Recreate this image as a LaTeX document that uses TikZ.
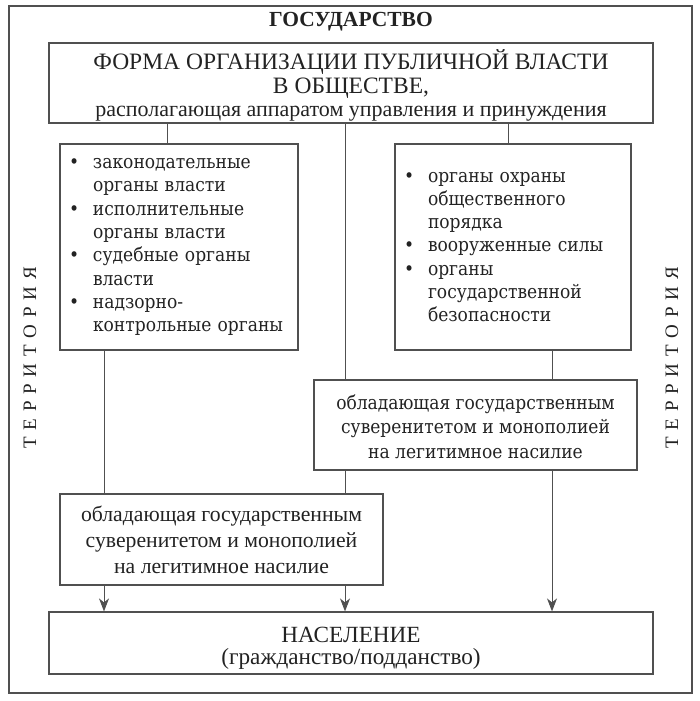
\documentclass[tikz,border=0pt]{standalone}
\usepackage{fontspec}
\setmainfont{Liberation Serif}
\newfontfamily\widefont{DejaVu Serif Condensed}
\newfontfamily\spacedfont[LetterSpace=36]{Liberation Serif}
\usepackage{xcolor}
\usetikzlibrary{arrows.meta,positioning}
\definecolor{framegray}{HTML}{505050}
\definecolor{inkgray}{HTML}{222222}
\newcommand{\bul}{\makebox[24pt][l]{\textbullet}}
\newcommand{\ind}{\hspace*{24pt}}

\begin{document}
\begin{tikzpicture}[x=1pt, y=-1pt, text=inkgray,
    box/.style={rectangle, draw=framegray, line width=1.2pt, inner sep=0pt, align=center},
    listbox/.style={box, text width=220pt, inner xsep=9pt, minimum height=206pt, align=left,
        font=\widefont\fontsize{19}{23.3}\selectfont},
    link/.style={draw=framegray, line width=1pt},
    arr/.style={link, -{Stealth[length=13pt, width=10pt, inset=4pt]}}]
    \useasboundingbox (0,0) rectangle (699,701);
    \draw[framegray, line width=1.2pt] (9,6) rectangle (692,693);

    \node[font=\bfseries\fontsize{21.5}{24}\selectfont] (title) at (351,22) {ГОСУДАРСТВО};
    \node[box, minimum width=604pt, minimum height=80pt, font=\fontsize{22}{23.5}\selectfont] (top) at (351,83)
        {\rule{0pt}{25pt}\fontsize{23.5}{23.5}\selectfont ФОРМА ОРГАНИЗАЦИИ ПУБЛИЧНОЙ ВЛАСТИ\\
         \fontsize{23.5}{23.5}\selectfont В ОБЩЕСТВЕ,\\располагающая аппаратом управления и принуждения};

    % ветви власти
    \node[listbox] (lbox) at (179,247)
        {\bul законодательные\\\ind органы власти\\\bul исполнительные\\\ind органы власти\\
         \bul судебные органы\\\ind власти\\\bul надзорно-\\\ind контрольные органы};
    \node[listbox, text width=218pt] (rbox) at (513,247)
        {\bul органы охраны\\\ind общественного\\\ind порядка\\\bul вооруженные силы\\
         \bul органы\\\ind государственной\\\ind безопасности};

    \node[box, minimum width=323pt, minimum height=90pt, font=\widefont\fontsize{19}{24.5}\selectfont] (rmid) at (475.5,425)
        {\rule{0pt}{18pt}обладающая государственным\\суверенитетом и монополией\\на легитимное насилие};
    \node[box, minimum width=323pt, minimum height=91pt, font=\fontsize{21.7}{26}\selectfont] (lowl) at (221.5,539.5)
        {обладающая государственным\\суверенитетом и монополией\\на легитимное насилие};
    \node[box, minimum width=604pt, minimum height=62pt, font=\fontsize{23.2}{22.5}\selectfont] (pop) at (351,643)
        {\rule{0pt}{26pt}НАСЕЛЕНИЕ\\(гражданство/подданство)};

    \node[rotate=90, font=\spacedfont\fontsize{19}{20}\selectfont] (terl) at (30,358) {ТЕРРИТОРИЯ};
    \node[rotate=90, font=\spacedfont\fontsize{19}{20}\selectfont] (terr) at (672,358) {ТЕРРИТОРИЯ};

    % линии связи
    \coordinate (xa) at (104,0);
    \coordinate (xb) at (167,0);
    \coordinate (xc) at (345,0);
    \coordinate (xd) at (508,0);
    \coordinate (xe) at (552,0);
    \draw[link] (xb |- top.south) -- (xb |- lbox.north);
    \draw[link] (xc |- top.south) -- (xc |- rmid.north);
    \draw[link] (xd |- top.south) -- (xd |- rbox.north);
    \draw[link] (xe |- rbox.south) -- (xe |- rmid.north);
    \draw[link] (xa |- lbox.south) -- (xa |- lowl.north);
    \draw[link] (xc |- rmid.south) -- (xc |- lowl.north);
    \draw[arr] (xa |- lowl.south) -- (xa |- pop.north);
    \draw[arr] (xc |- lowl.south) -- (xc |- pop.north);
    \draw[arr] (xe |- rmid.south) -- (xe |- pop.north);
\end{tikzpicture}
\end{document}
